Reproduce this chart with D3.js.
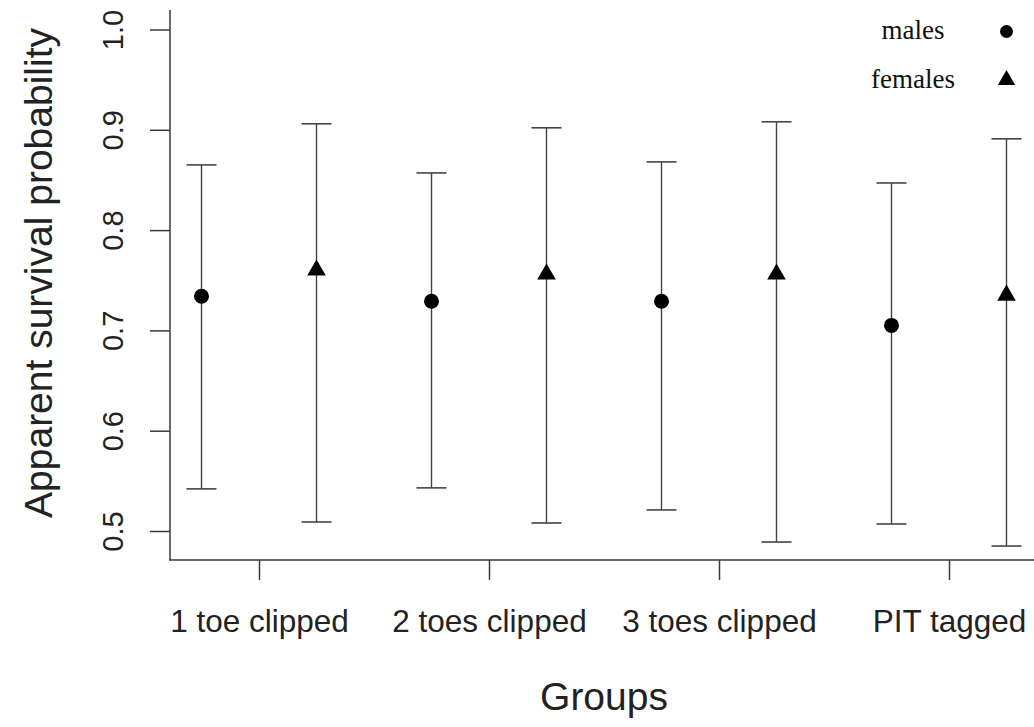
<!DOCTYPE html>
<html>
<head>
<meta charset="utf-8">
<script src="https://cdn.jsdelivr.net/npm/d3@7"></script>
<style>
  html, body { margin: 0; padding: 0; background: #fff; }
  svg { display: block; }
</style>
</head>
<body>
<svg id="chart" width="1034" height="727"></svg>
<script>
// ---- data ----
const categories = ["1 toe clipped", "2 toes clipped", "3 toes clipped", "PIT tagged"];
const maleEstimate = [0.734, 0.729, 0.729, 0.705];
const maleLower    = [0.542, 0.543, 0.521, 0.507];
const maleUpper    = [0.865, 0.857, 0.868, 0.847];
const femaleEstimate = [0.760, 0.756, 0.756, 0.735];
const femaleLower    = [0.509, 0.508, 0.489, 0.485];
const femaleUpper    = [0.906, 0.902, 0.908, 0.891];
const yTicks = [0.5, 0.6, 0.7, 0.8, 0.9, 1.0];
const legendLabels = ["males", "females"];

// ---- scales ----
const svg = d3.select("#chart");
const x = d3.scaleLinear().domain([1, 4]).range([259, 949]);
const y = d3.scaleLinear().domain([0.5, 1.0]).range([531, 29.5]);
const axisColor = "#3a3a3a";
const offset = 0.25;

// axes lines (L-shaped box)
svg.append("line").attr("x1", 170).attr("x2", 170).attr("y1", 10).attr("y2", 560.5)
  .attr("stroke", axisColor).attr("stroke-width", 1.5);
svg.append("line").attr("x1", 169.25).attr("x2", 1034).attr("y1", 560).attr("y2", 560)
  .attr("stroke", axisColor).attr("stroke-width", 1.5);

// y axis
const yAxis = d3.axisLeft(y).tickValues(yTicks).tickSize(20).tickFormat(d3.format(".1f"));
const gy = svg.append("g").attr("transform", "translate(170,0)").call(yAxis);
gy.select(".domain").remove();
gy.selectAll(".tick line").attr("stroke", axisColor).attr("stroke-width", 1.5);
gy.selectAll(".tick text").remove();
gy.selectAll(".tick").append("text")
  .attr("transform", "translate(-47,0) rotate(-90)")
  .attr("text-anchor", "middle")
  .attr("fill", "#222")
  .style("font-family", "'Liberation Sans', Arial, sans-serif")
  .style("font-size", "29px")
  .text(d => d3.format(".1f")(d));

// x axis
const xAxis = d3.axisBottom(x).tickValues([1, 2, 3, 4]).tickSize(20).tickFormat(d => categories[d - 1]);
const gx = svg.append("g").attr("transform", "translate(0,560)").call(xAxis);
gx.select(".domain").remove();
gx.selectAll(".tick line").attr("stroke", axisColor).attr("stroke-width", 1.5);
gx.selectAll(".tick text")
  .attr("y", 72).attr("dy", null)
  .attr("fill", "#222")
  .style("font-family", "'Liberation Sans', Arial, sans-serif")
  .style("font-size", "31.5px");

// axis titles
svg.append("text")
  .attr("x", 604).attr("y", 710)
  .attr("text-anchor", "middle")
  .attr("fill", "#222")
  .style("font-family", "'Liberation Sans', Arial, sans-serif")
  .style("font-size", "39px")
  .text("Groups");
svg.append("text")
  .attr("transform", "translate(52,273) rotate(-90)")
  .attr("text-anchor", "middle")
  .attr("fill", "#222")
  .style("font-family", "'Liberation Sans', Arial, sans-serif")
  .style("font-size", "39px")
  .text("Apparent survival probability");

// ---- error bars and points ----
const series = [
  { est: maleEstimate, lo: maleLower, hi: maleUpper, dx: -offset, shape: "circle" },
  { est: femaleEstimate, lo: femaleLower, hi: femaleUpper, dx: offset, shape: "triangle" }
];
const capHalf = 15;
const barColor = "#444";

series.forEach(s => {
  const rows = categories.map((c, i) => ({ xi: i + 1 + s.dx, est: s.est[i], lo: s.lo[i], hi: s.hi[i] }));
  const g = svg.append("g");
  g.selectAll("line.v").data(rows).enter().append("line")
    .attr("x1", d => x(d.xi)).attr("x2", d => x(d.xi))
    .attr("y1", d => y(d.lo)).attr("y2", d => y(d.hi))
    .attr("stroke", barColor).attr("stroke-width", 1.4);
  ["lo", "hi"].forEach(k => {
    g.selectAll("line.c" + k).data(rows).enter().append("line")
      .attr("x1", d => x(d.xi) - capHalf).attr("x2", d => x(d.xi) + capHalf)
      .attr("y1", d => y(d[k])).attr("y2", d => y(d[k]))
      .attr("stroke", barColor).attr("stroke-width", 1.6);
  });
  if (s.shape === "circle") {
    g.selectAll("circle").data(rows).enter().append("circle")
      .attr("cx", d => x(d.xi)).attr("cy", d => y(d.est)).attr("r", 7.5)
      .attr("fill", "#000");
  } else {
    const tri = d3.symbol().type(d3.symbolTriangle).size(150);
    g.selectAll("path").data(rows).enter().append("path")
      .attr("transform", d => `translate(${x(d.xi)},${y(d.est)})`)
      .attr("d", tri).attr("fill", "#000");
  }
});

// ---- legend ----
const legendY = [39, 88];
const legend = svg.append("g");
legend.selectAll("text").data(legendLabels).enter().append("text")
  .attr("x", 913).attr("y", (d, i) => legendY[i])
  .attr("text-anchor", "middle")
  .attr("fill", "#111")
  .style("font-family", "'Liberation Serif', 'Times New Roman', serif")
  .style("font-size", "27px")
  .text(d => d);
legend.append("circle").attr("cx", 1006.5).attr("cy", 31.5).attr("r", 6.5).attr("fill", "#000");
legend.append("path").attr("transform", "translate(1006.5,80)")
  .attr("d", d3.symbol().type(d3.symbolTriangle).size(130)).attr("fill", "#000");
</script>
</body>
</html>
